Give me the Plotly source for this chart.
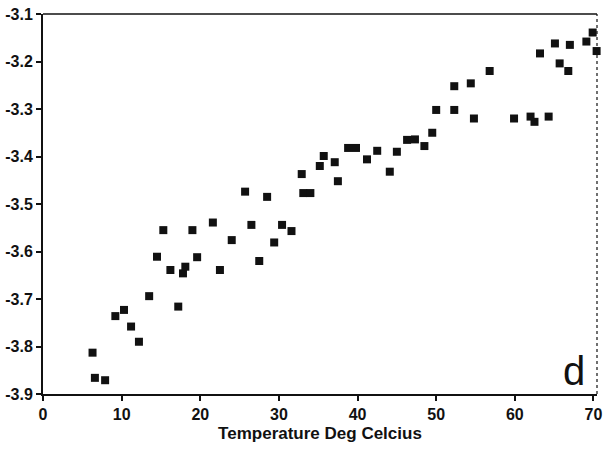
import plotly.graph_objects as go

temperature = [6.3, 6.6, 7.9, 9.2, 10.3, 11.2, 12.2, 13.5, 14.5, 15.3,
               16.2, 17.2, 17.8, 18.1, 19.0, 19.6, 21.6, 22.5, 24.0, 25.7,
               26.5, 27.5, 28.5, 29.4, 30.4, 31.6, 32.9, 33.1, 34.0, 35.2,
               35.7, 37.1, 37.5, 38.8, 39.8, 41.2, 42.5, 44.1, 45.0, 46.3,
               47.3, 48.5, 49.5, 50.0, 52.3, 52.3, 54.4, 54.8, 56.8, 59.9,
               62.0, 62.5, 64.3, 63.2, 65.1, 65.7, 66.8, 67.0, 69.1, 69.9,
               70.4]
log_value = [-3.813, -3.866, -3.871, -3.736, -3.723, -3.758, -3.790, -3.694, -3.611, -3.555,
             -3.639, -3.716, -3.646, -3.632, -3.555, -3.612, -3.539, -3.639, -3.576, -3.474,
             -3.544, -3.620, -3.485, -3.581, -3.544, -3.557, -3.437, -3.477, -3.477, -3.420,
             -3.399, -3.412, -3.452, -3.382, -3.382, -3.406, -3.388, -3.432, -3.390, -3.365,
             -3.364, -3.378, -3.350, -3.302, -3.302, -3.252, -3.246, -3.320, -3.220, -3.320,
             -3.316, -3.327, -3.316, -3.183, -3.162, -3.204, -3.220, -3.165, -3.158, -3.139,
             -3.178]

x_ticks = [0, 10, 20, 30, 40, 50, 60, 70]
y_ticks = [-3.9, -3.8, -3.7, -3.6, -3.5, -3.4, -3.3, -3.2, -3.1]
x_title = "Temperature Deg Celcius"
panel_label = "d"

ink = "#111111"
fig = go.Figure()
fig.add_trace(go.Scatter(
    x=temperature, y=log_value, mode="markers",
    marker=dict(symbol="square", size=8, color=ink, line=dict(width=0)),
    cliponaxis=False, showlegend=False,
))

tick_font = dict(family="Liberation Sans, Arial, sans-serif", size=16, color=ink, weight="bold")
title_font = dict(family="Liberation Sans, Arial, sans-serif", size=17, color=ink, weight="bold")

fig.update_layout(
    width=604, height=457,
    margin=dict(l=43, r=7, t=14, b=63),
    paper_bgcolor="white", plot_bgcolor="white",
    xaxis=dict(
        range=[0, 70.45], tickvals=x_ticks, ticktext=[str(v) for v in x_ticks],
        showgrid=False, zeroline=False, automargin=False,
        showline=True, linecolor=ink, linewidth=2,
        ticks="outside", ticklen=5, tickwidth=2, tickcolor=ink,
        tickfont=tick_font,
        title=dict(text=x_title, font=title_font, standoff=5),
    ),
    yaxis=dict(
        range=[-3.9, -3.1], tickvals=y_ticks, ticktext=[f"{v:.1f}" for v in y_ticks],
        showgrid=False, zeroline=False, automargin=False,
        showline=True, linecolor=ink, linewidth=2,
        ticks="outside", ticklen=5, tickwidth=2, tickcolor=ink,
        tickfont=tick_font, ticklabelstandoff=0,
    ),
    shapes=[
        dict(type="line", xref="paper", yref="paper", x0=0, x1=1, y0=1, y1=1,
             line=dict(color=ink, width=1.5)),
        dict(type="line", xref="paper", yref="paper", x0=1, x1=1, y0=0, y1=1,
             line=dict(color=ink, width=1.2, dash="dot")),
    ],
    annotations=[
        dict(text=panel_label, xref="paper", yref="paper", x=0.982, y=0.06,
             xanchor="right", yanchor="middle", showarrow=False,
             font=dict(family="Liberation Sans, Arial, sans-serif", size=40, color=ink)),
    ],
)

fig.write_html("out.html")
